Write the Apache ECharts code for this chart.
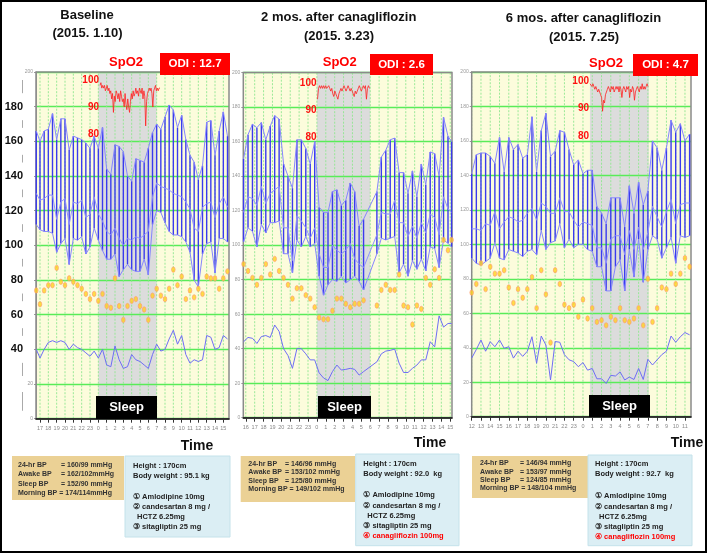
<!DOCTYPE html>
<html><head><meta charset="utf-8">
<script src="https://cdn.jsdelivr.net/npm/echarts@6/dist/echarts.min.js"></script>
<style>html,body{margin:0;padding:0;background:#fff;}#c{width:709px;height:554px;}</style>
</head><body><div id="c"></div>
<script>
// ---------- DATA ----------
const p1Time=[16.55,17,17.5,18,18.5,19,19.5,20,20.5,21,21.5,22,22.5,23,23.5,24,24.5,25,25.5,26,26.5,27,27.5,28,28.5,29,29.5,30,30.5,31,31.5,32,32.5,33,33.5,34,34.5,35,35.5,36,36.5,37,37.5,38,38.5,39,39.5];
const p1Sys=[166,160,166,167,176,161,173,173,155,163,162,161,159,156,163,156,168,144,141,158,157,154,140,137,150,149,148,156,165,170,167,174,181,178,168,175,161,152,148,138,146,171,172,152,166,177,163];
const p1Mid=[130,126,127,129,129,115,125,127,112,125,124,126,116,118,128,118,114,108,106,110,104,100,104,103,105,104,106,108,128,136,134,133,132,130,129,128,125,121,110,108,122,124,125,116,124,128,122];
const p1Dia=[112,109,108,108,107,96,101,104,89,104,103,105,95,99,110,103,97,92,92,95,82,86,89,86,85,85,92,83,112,120,119,113,108,106,106,105,102,96,80,76,95,101,102,84,104,104,102];
const p1Pulse=[74,66,74,77,77,87,79,77,81,79,77,75,72,69,72,68,72,65,64,81,65,57,65,68,69,65,63,57,71,75,71,69,75,86,77,82,69,74,70,75,72,82,81,81,75,81,85];
const p1Low=[40,35,40,44,45,44,45,44,40,43,41,40,38,36,39,35,40,31,30,42,34,29,30,37,34,33,31,29,37,43,39,40,46,51,43,48,37,32,34,33,34,48,47,40,41,48,46];
const p1Hours=[17,18,19,20,21,22,23,24,25,26,27,28,29,30,31,32,33,34,35,36,37,38,39];
const p1Sleep=[24,31];
const p1Spo2=[98,99,97,98,97,98,96,97,98,96,97,95,96,93,95,88,94,92,96,95,93,95,92,96,94,92,93,90,95,91,89,93,90,88,92,95,93,96,94,95,97,95,96,94,97,96,95,97,93,96,94,83,92,95,96,97,96,97,95,90,96,97,98,96,97,96,97,97];

const p2Time=[15.75,16.25,16.75,17.25,17.75,18.25,18.75,19.25,19.75,20.25,20.75,21.25,21.75,22.25,22.75,23.25,23.75,24.25,24.75,25.25,25.75,26.25,26.75,27.25,27.75,28.25,28.75,29.25,30.75,31.25,31.75,32.25,32.75,33.25,33.75,34.25,34.75,35.25,35.75,36.25,36.75,37.25,37.75,38.25,38.75,39.15];
const p2Sys=[150,164,170,168,171,161,169,175,173,147,140,133,161,161,156,147,160,122,119,119,131,132,123,126,136,131,111,115,131,151,155,161,162,142,142,130,143,128,147,135,154,153,140,174,163,160];
const p2Mid=[119,128,127,123,134,124,130,132,134,110,110,91,117,114,110,104,110,95,87,87,100,97,95,97,101,92,89,87,106,119,118,118,126,113,113,105,111,104,113,107,118,116,106,128,121,119];
const p2Dia=[102,110,108,99,112,107,113,113,114,95,95,84,103,99,105,99,101,82,71,77,80,79,82,78,80,82,79,74,95,104,103,104,105,84,89,82,91,86,92,85,99,98,87,103,101,99];
const p2Pulse=[89,85,81,77,81,89,83,92,85,81,77,69,75,75,71,69,64,58,57,57,62,69,69,66,64,66,66,68,65,74,77,74,74,83,65,64,54,65,63,81,77,86,81,103,97,103];
const p2Low=[44,46.5,46,43,47,47.6,46.5,53.7,50,40,36,28.6,40,40,37,33.5,33.5,26,23,21.5,26.7,30.5,27.6,28,28.6,28,24.7,26.7,32.4,37,38.6,39,39.8,31.6,26.2,26.2,28.6,30.5,33.5,33.5,44,41,59,52.5,54.6,54.6];
const p2Hours=[16,17,18,19,20,21,22,23,24,25,26,27,28,29,30,31,32,33,34,35,36,37,38,39];
const p2Sleep=[24,30];
const p2Spo2=[94,98,99,98,99,98,99,98,99,98,98,99,98,97,98,96,95,97,96,95,94,96,97,98,97,98,99,98,97,98,99,98,97,98,97,96,95,97,96,97,98,99,98,97,98,99,98,99,94,98,99,98];

const p3Time=[12,12.5,13,13.5,14,14.5,15,15.5,16,16.5,17,17.5,18,18.5,19,19.5,20,20.5,21,21.5,22,22.5,23,23.5,24,24.5,25,25.5,26,26.5,27,27.5,28,28.5,29,29.5,30,30.5,31,31.5,32,32.5,33,33.5,34,34.5,35,35.5];
const p3Sys=[141,152,153,153,151,147,162,142,162,155,158,150,152,174,142,166,176,151,154,166,165,155,146,149,141,143,143,122,118,112,127,127,127,110,134,118,136,123,131,160,156,143,156,172,165,170,160,164];
const p3Mid=[109,109,108,112,111,119,109,113,116,115,113,114,118,121,114,124,122,118,118,127,119,119,114,110,113,112,111,98,98,89,103,105,105,94,108,97,110,97,107,122,116,110,119,126,112,123,124,124];
const p3Dia=[92,89,88,90,92,101,92,91,97,96,95,93,96,97,94,108,97,101,102,112,98,103,98,100,100,97,96,87,87,73,73,87,91,73,97,81,103,78,97,105,103,92,98,104,89,105,104,105];
const p3Pulse=[72,77,89,74,87,83,83,85,75,66,74,69,74,81,63,85,71,43,85,77,65,63,65,58,68,57,63,55,56,53,58,56,63,56,55,57,63,53,80,55,63,75,74,83,77,83,92,87];
const p3Low=[34,39,44.5,38,43.5,40.6,44.5,39.7,40.6,34,38,35,38,46.4,31,46.8,41.6,21.3,43.6,43.2,36,33,32,29,31.4,27,28,22,22,19.3,24,23.6,26,21.3,23,21.6,28,21.6,33.3,30,33,36,38,46.8,43.2,46.4,48.8,47.5];
const p3Hours=[12,13,14,15,16,17,18,19,20,21,22,23,24,25,26,27,28,29,30,31,32,33,34,35];
const p3Sleep=[24.75,31.1];
const p3Spo2=[99,99,98,99,98,97,98,97,96,97,96,95,94,89,93,92,95,96,97,98,97,96,98,97,98,96,97,98,97,98,96,98,97,94,97,98,97,96,98,97,98,94,97,96,98,97,93,96,97,98,97,96,98,97,99,97,98,97,98,99,98];

// ---------- LAYOUT ----------
const panels=[
  {t:p1Time,s:p1Sys,m:p1Mid,d:p1Dia,pu:p1Pulse,lo:p1Low,h:p1Hours,sl:p1Sleep,sp:p1Spo2,
   grid:{left:36,top:72,width:193,height:346.7},xr:[16.52,39.68],
   spGrid:{left:100,top:80,width:60,height:54}},
  {t:p2Time,s:p2Sys,m:p2Mid,d:p2Dia,pu:p2Pulse,lo:p2Low,h:p2Hours,sl:p2Sleep,sp:p2Spo2,
   grid:{left:243.3,top:72.5,width:208.7,height:345.2},xr:[15.72,39.2],
   spGrid:{left:317.5,top:83,width:52,height:54}},
  {t:p3Time,s:p3Sys,m:p3Mid,d:p3Dia,pu:p3Pulse,lo:p3Low,h:p3Hours,sl:p3Sleep,sp:p3Spo2,
   grid:{left:471.7,top:72,width:219.3,height:344.7},xr:[12.0,35.65],
   spGrid:{left:590,top:81,width:58,height:55}}
];

const grid=[],xAxis=[],yAxis=[],series=[];
const tinyLab={fontSize:5,color:'#999',fontFamily:'Liberation Sans'};
panels.forEach((p,i)=>{
  grid.push(Object.assign({show:true,borderColor:'#8a8a8a',borderWidth:1.5,backgroundColor:'transparent',z:1.8,containLabel:false},p.grid));
  xAxis.push({type:'value',gridIndex:i,min:p.xr[0],max:p.xr[1],z:2,
    axisLine:{show:true,lineStyle:{color:'#111',width:1.5}},
    axisTick:{show:true,customValues:p.h,length:4,lineStyle:{color:'#333',width:1}},
    axisLabel:{show:true,customValues:p.h,fontSize:5.5,color:'#888',margin:7,fontFamily:'Liberation Sans',
      formatter:v=>String(Math.round(v)%24)},
    splitLine:{show:false}});
  yAxis.push({type:'value',gridIndex:i,min:0,max:200,interval:20,z:1.5,
    axisLine:{show:true,lineStyle:{color:'#999',width:1}},
    axisTick:{show:true,length:2,lineStyle:{color:'#999'}},
    axisLabel:Object.assign({margin:3,formatter:v=>(i===0&&v>20&&v<200)?'':String(v)},tinyLab),
    splitLine:{show:true,lineStyle:{color:'#58ec58',width:1.3}}});
});
yAxis.push({type:'value',gridIndex:0,min:0,max:200,interval:20,position:'left',offset:14,z:2,
  axisLine:{show:true,lineStyle:{color:'#aaa',width:1}},axisTick:{show:false},splitLine:{show:false},
  axisLabel:{fontSize:11,fontWeight:'bold',color:'#111',fontFamily:'Liberation Sans',margin:-2,
    backgroundColor:'#fff',padding:[8,1],formatter:v=>(v>=40&&v<=180)?String(v):''}});

panels.forEach((p,i)=>{
  const gi=3+i;
  grid.push(Object.assign({show:false},p.spGrid));
  xAxis.push({type:'category',gridIndex:gi,data:p.sp.map((_,k)=>k),boundaryGap:false,show:false});
  yAxis.push({type:'value',gridIndex:gi,min:80,max:100,interval:10,z:3,
    axisLine:{show:false},axisTick:{show:false},splitLine:{show:false},
    axisLabel:{show:true,margin:1,fontSize:10,fontWeight:'bold',color:'#ff1010',fontFamily:'Liberation Sans'}});
});

panels.forEach((p,i)=>{
  series.push({type:'custom',xAxisIndex:i,yAxisIndex:i,z:1,silent:true,clip:false,
    data:[[p.sl[0],p.sl[1]]],
    renderItem:(params,api)=>{
      const cs=params.coordSys;
      const a=api.coord([api.value(0),200]),b=api.coord([api.value(1),0]);
      return {type:'group',children:[
        {type:'rect',shape:{x:cs.x,y:cs.y,width:cs.width,height:cs.height},style:{fill:'#fcfcdc'}},
        {type:'rect',shape:{x:a[0],y:a[1],width:b[0]-a[0],height:b[1]-a[1]},style:{fill:'#dcdcdc'}}]};
    }});
  series.push({type:'custom',xAxisIndex:i,yAxisIndex:i,z:1.6,silent:true,
    data:p.h.map(h=>[h,0]),
    renderItem:(params,api)=>{
      const a=api.coord([api.value(0),0]),b=api.coord([api.value(0),200]);
      return {type:'line',shape:{x1:a[0],y1:a[1],x2:b[0],y2:b[1]},style:{stroke:'#8fe68f',lineWidth:0.9,lineDash:[2,1.5]}};
    }});
  // vertical BP bars (dia -> sys)
  series.push({type:'custom',xAxisIndex:i,yAxisIndex:i,z:2,silent:true,
    data:p.t.map((t,k)=>[t,p.d[k],p.s[k]]),encode:{x:0,y:[1,2]},
    renderItem:(params,api)=>{
      const a=api.coord([api.value(0),api.value(1)]),b=api.coord([api.value(0),api.value(2)]);
      return {type:'line',shape:{x1:a[0],y1:a[1],x2:b[0],y2:b[1]},style:{stroke:'#3a3aee',lineWidth:1.4}};
    }});
  // connecting lines: systolic, mean, diastolic, lower trace
  [[p.s,'#8585ff'],[p.m,'#9090ff'],[p.d,'#8585ff'],[p.lo,'#6e6ef5']].forEach(([arr,col])=>{
    series.push({type:'custom',xAxisIndex:i,yAxisIndex:i,z:5,silent:true,
      dimensions:['t','v'],data:p.t.map((t,k)=>[t,arr[k]]),encode:{x:'t',y:'v'},
      renderItem:(params,api)=>{
        const k=params.dataIndex;
        if(k===0) return null;
        const a=api.coord([p.t[k-1],arr[k-1]]),b=api.coord([api.value(0),api.value(1)]);
        return {type:'line',shape:{x1:a[0],y1:a[1],x2:b[0],y2:b[1]},style:{stroke:col,lineWidth:1}};
      }});
  });
  series.push({type:'scatter',xAxisIndex:i,yAxisIndex:i,z:6,silent:true,symbol:'circle',symbolSize:[3.6,5.4],
    data:p.t.map((t,k)=>[t,p.pu[k]]),itemStyle:{color:'#ffd21f',borderColor:'#ff9a70',borderWidth:0.8}});
  series.push({type:'line',xAxisIndex:3+i,yAxisIndex:4+i,z:6,silent:true,symbol:'none',
    data:p.sp,lineStyle:{color:'#ff2020',width:0.8}});
});

// ---------- ANNOTATIONS ----------
const T=(x,y,text,font,fill,align)=>({type:'text',x,y,z:10,style:{text,font,fill:fill||'#111',align:align||'center',verticalAlign:'middle'}});
const R=(x,y,w,h,fill,stroke)=>({type:'rect',z:9,shape:{x,y,width:w,height:h},style:{fill,stroke:stroke||null,lineWidth:stroke?1:0}});
const FT='bold 13px "Liberation Sans"';
const g=[];
g.push(T(87,15,'Baseline',FT),T(87.5,33,'(2015. 1.10)',FT));
g.push(T(338.7,17,'2 mos. after canagliflozin',FT),T(339,36,'(2015. 3.23)',FT));
g.push(T(583.5,18,'6 mos. after canagliflozin',FT),T(584,37,'(2015. 7.25)',FT));
const SP='bold 13px "Liberation Sans"';
g.push(T(126,62,'SpO2',SP,'#ff0000'),T(339.7,62,'SpO2',SP,'#ff0000'),T(606,63,'SpO2',SP,'#ff0000'));
const OD='bold 11.5px "Liberation Sans"';
g.push(R(160,53,70,22,'#ff0000'),T(195,64,'ODI : 12.7',OD,'#fff'));
g.push(R(370,54,63,21,'#ff0000'),T(401.5,64.5,'ODI : 2.6',OD,'#fff'));
g.push(R(633,54,65,22,'#ff0000'),T(665.5,65,'ODI : 4.7',OD,'#fff'));
const SL='bold 13px "Liberation Sans"';
g.push(R(96,396,61,23,'#000'),T(126.5,407.5,'Sleep',SL,'#fff'));
g.push(R(318,396,53,22,'#000'),T(344.5,407,'Sleep',SL,'#fff'));
g.push(R(589,395,61,22,'#000'),T(619.5,406,'Sleep',SL,'#fff'));
const TM='bold 14px "Liberation Sans"';
g.push(T(197,446,'Time',TM),T(430,443,'Time',TM),T(687,443,'Time',TM));

const TF='bold 7px "Liberation Sans"';
const BF='bold 7.5px "Liberation Sans"';
function tan(x,y,w,h,tx,ex,ys,vals){
  g.push(R(x,y,w,h,'#ebd195'));
  const labs=['24-hr BP','Awake BP','Sleep BP'];
  for(let k=0;k<3;k++){g.push(T(tx,ys[k],labs[k],TF,'#333','left'),T(ex,ys[k],'= '+vals[k],TF,'#333','left'));}
  g.push(T(tx,ys[3],'Morning BP = '+vals[3],TF,'#333','left'));
}
tan(12,456,112,44,18,61,[465,474.5,484,493],['160/99 mmHg','162/102mmHg','152/90 mmHg','174/114mmHg']);
tan(240.7,456,114.3,46,248.3,285,[464,472.5,481,489.5],['146/96 mmHg','153/102 mmHg','125/80 mmHg','149/102 mmHg']);
tan(472,456,116,42,480,520,[463.5,471.8,480,488.3],['146/94 mmHg','153/97 mmHg','124/85 mmHg','148/104 mmHg']);
function blue(x,y,w,h,tx,ys,wt,red){
  g.push(R(x,y,w,h,'#dbeef4','#c4e2ea'));
  const lines=['Height : 170cm','Body weight : '+wt,'① Amlodipine 10mg','② candesartan 8 mg /','HCTZ 6.25mg','③ sitagliptin 25 mg'];
  lines.forEach((s,k)=>g.push(T(k===4?tx+4:tx,ys[k],s,BF,'#222','left')));
  if(red) g.push(T(tx,ys[6],'④ canagliflozin 100mg',BF,'#ff0000','left'));
}
blue(125,456,105,81,133,[465.7,476,496.7,507,516.7,527],'95.1 kg',false);
blue(355.7,454,103.3,91.7,363.3,[464,474,495,505.7,515.7,525.7,536],'92.0  kg',true);
blue(588,455,104,90.7,595,[464,474.3,495.7,506.7,516.7,526.7,536.7],'92.7  kg',true);
g.push({type:'rect',z:11,shape:{x:1,y:1,width:705,height:551},style:{fill:null,stroke:'#000',lineWidth:2}});

const chart=echarts.init(document.getElementById('c'));
chart.setOption({animation:false,backgroundColor:'#fff',grid,xAxis,yAxis,series,graphic:g});
chart.getZr().refreshImmediately();
</script></body></html>
